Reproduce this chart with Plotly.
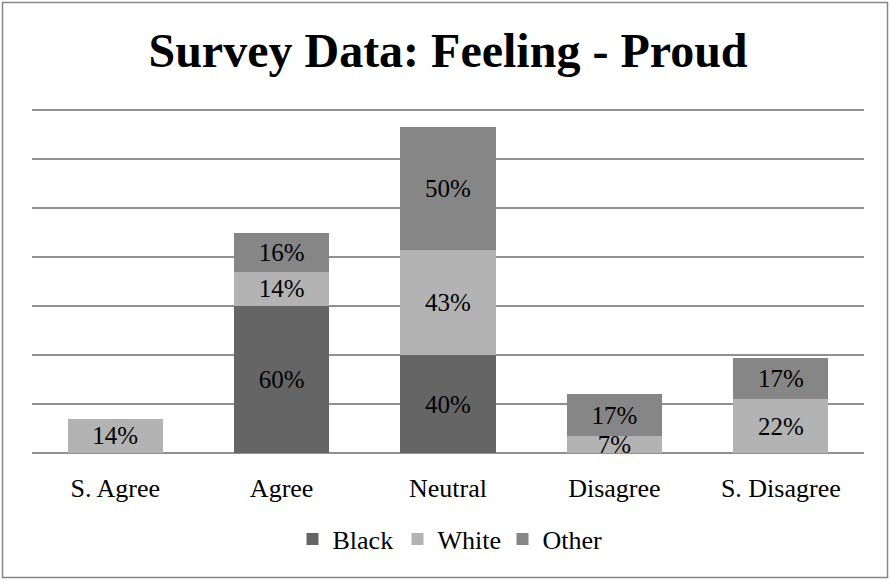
import plotly.graph_objects as go

# Survey responses by group (percent); None = no respondents in that group
categories = ["S. Agree", "Agree", "Neutral", "Disagree", "S. Disagree"]
black = [None, 60, 40, None, None]
white = [14, 14, 43, 7, 22]
other = [None, 16, 50, 17, 17]

series = [("Black", black, "#656565"),
          ("White", white, "#b3b3b3"),
          ("Other", other, "#868686")]

FONT = "Liberation Serif"

fig = go.Figure()
for name, vals, color in series:
    fig.add_trace(go.Bar(
        x=categories, y=vals, name=name,
        marker=dict(color=color, line=dict(width=0)),
        texttemplate="%{y}%",
        textposition="inside",
        insidetextanchor="middle",
        textfont=dict(color="black", size=25, family=FONT),
        insidetextfont=dict(color="black", size=25, family=FONT),
        width=0.571,
        hoverinfo="skip",
    ))

W, H = 890, 581
YMAX = 140.5
L, R, B = 32, 26, 128
# top margin chosen so the 140 gridline lands just inside the plot area
ph = round((H - B - 110) * YMAX / 140)
T = H - B - ph
pw = W - L - R

def px_x(x):
    return (x - L) / pw

def px_y(y):
    return (H - B - y) / ph

fig.update_layout(
    width=W, height=H,
    barmode="stack",
    margin=dict(l=L, r=R, t=T, b=B),
    paper_bgcolor="white", plot_bgcolor="white",
    font=dict(family=FONT, size=25, color="black"),
    title=dict(text="<b>Survey Data: Feeling - Proud</b>",
               font=dict(size=48, family=FONT, color="black"),
               x=px_x(448), xanchor="center", xref="paper",
               y=1 - 50 / H, yanchor="middle", yref="container"),
    uniformtext=dict(mode="show", minsize=25),
    showlegend=True,
    legend=dict(orientation="h", x=px_x(450), xanchor="center",
                y=px_y(539), yanchor="middle",
                font=dict(size=26, family=FONT, color="black"), itemwidth=30,
                entrywidth=60, entrywidthmode="pixels",
                traceorder="normal", itemclick=False),
    xaxis=dict(showgrid=False, showline=False, ticks="",
               ticklabelstandoff=17, tickfont=dict(size=26, family=FONT)),
    yaxis=dict(range=[0, YMAX], dtick=20, showticklabels=False,
               showgrid=True, gridcolor="#909090", gridwidth=1.5,
               zeroline=True, zerolinecolor="#909090", zerolinewidth=1.5,
               showline=False, ticks=""),
    shapes=[dict(type="rect", xref="paper", yref="paper",
                 x0=px_x(2.5), x1=px_x(887.5), y0=px_y(577.5), y1=px_y(2.5),
                 line=dict(color="#868686", width=1.5), layer="below")],
)

fig.write_html("out.html")
